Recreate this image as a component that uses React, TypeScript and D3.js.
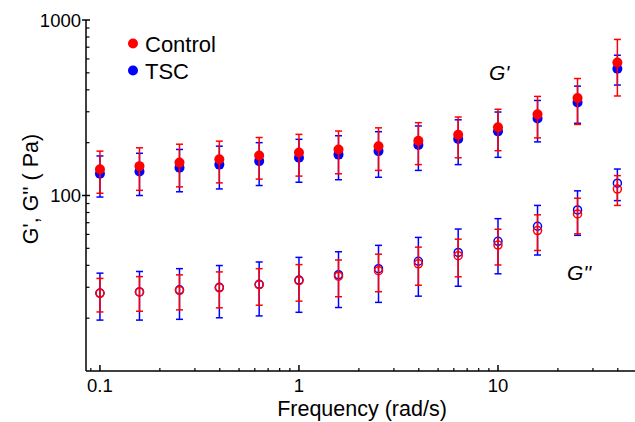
import React from "react";
import * as d3 from "d3";

const freq = [0.1, 0.158, 0.251, 0.398, 0.631, 1, 1.58, 2.51, 3.98, 6.31, 10, 15.8, 25.1, 39.8];

const controlGp = [141, 147, 154, 161, 169, 176, 183, 191, 205, 222, 245, 290, 359, 572];
const controlGpErr = [38, 40, 42, 43, 45, 47, 50, 52, 55, 58, 65, 77, 105, 203];
const tscGp = [133, 137, 144, 150, 157, 164, 171, 179, 194, 210, 232, 275, 339, 528];
const tscGpErr = [35, 37, 39, 41, 43, 45, 48, 52, 55, 60, 67, 73, 81, 102];

const controlGpp = [27.7, 28.2, 28.8, 29.8, 31.0, 32.7, 34.7, 37.3, 40.8, 45.4, 52.2, 63.1, 78.5, 108.8];
const controlGppErr = [6.0, 6.3, 6.5, 6.9, 7.3, 7.7, 8.2, 9.0, 10.0, 11.0, 12.0, 14.5, 18, 21];
const tscGpp = [27.8, 28.2, 29.0, 30.0, 31.2, 33.0, 35.4, 38.3, 42.2, 47.4, 54.8, 66.8, 82.8, 117.5];
const tscGppErr = [8.3, 8.7, 9.3, 9.9, 10.6, 11.4, 12.4, 13.7, 15.5, 17.0, 19.0, 21.0, 23.5, 24];

const xMajor = [0.1, 1, 10];
const xMajorLabels = ["0.1", "1", "10"];
const yMajor = [100, 1000];
const yMajorLabels = ["100", "1000"];

const seriesNames = ["Control", "TSC"];
const RED = "#ff0000";
const BLUE = "#0000ff";

const W = 635;
const H = 422;
const FONT = "'Liberation Sans', Arial, Helvetica, sans-serif";

export default function App() {
  const x = d3.scaleLog().domain([0.0851, 48.8]).range([86, 635]);
  const y = d3.scaleLog().domain([10, 1000]).range([371, 20]);

  const xMinor: number[] = [];
  [0.01, 0.1, 1, 10].forEach((dec) => {
    for (let k = 2; k <= 9; k++) {
      const v = dec * k;
      if (v > x.domain()[0] && v < x.domain()[1]) xMinor.push(v);
    }
  });
  const yMinor: number[] = [];
  [10, 100].forEach((dec) => {
    for (let k = 2; k <= 9; k++) yMinor.push(dec * k);
  });

  const errBars = (vals: number[], errs: number[], color: string, key: string) =>
    vals.map((v, i) => {
      const cx = x(freq[i]);
      const yt = y(v + errs[i]);
      const yb = y(v - errs[i]);
      return (
        <g key={key + i} stroke={color} strokeWidth={1.5}>
          <line x1={cx} x2={cx} y1={yt} y2={yb} />
          <line x1={cx - 3.5} x2={cx + 3.5} y1={yt} y2={yt} />
          <line x1={cx - 3.5} x2={cx + 3.5} y1={yb} y2={yb} />
        </g>
      );
    });

  const filled = (vals: number[], color: string, key: string) =>
    vals.map((v, i) => <circle key={key + i} cx={x(freq[i])} cy={y(v)} r={5} fill={color} />);

  const open = (vals: number[], color: string, key: string) =>
    vals.map((v, i) => (
      <circle key={key + i} cx={x(freq[i])} cy={y(v)} r={4} fill="none" stroke={color} strokeWidth={1.5} />
    ));

  const x0 = x.range()[0];
  const y0 = y.range()[0];

  return (
    <svg
      width={W}
      height={H}
      style={{ position: "absolute", left: 0, top: 0, background: "#fff" }}
      fontFamily={FONT}
    >
      {/* data */}
      {errBars(tscGp, tscGpErr, BLUE, "tbgp")}
      {errBars(tscGpp, tscGppErr, BLUE, "tbgpp")}
      {filled(tscGp, BLUE, "tpgp")}
      {open(tscGpp, BLUE, "tpgpp")}
      {errBars(controlGp, controlGpErr, RED, "cbgp")}
      {errBars(controlGpp, controlGppErr, RED, "cbgpp")}
      {filled(controlGp, RED, "cpgp")}
      {open(controlGpp, RED, "cpgpp")}

      {/* axes */}
      <line x1={x0} x2={x0} y1={y.range()[1]} y2={y0} stroke="#000" strokeWidth={1.5} />
      <line x1={x0} x2={x.range()[1]} y1={y0} y2={y0} stroke="#000" strokeWidth={1.5} />

      {xMajor.map((v, i) => (
        <g key={"xm" + i}>
          <line x1={x(v)} x2={x(v)} y1={y0} y2={y0 - 6} stroke="#000" strokeWidth={1.5} />
          <text x={x(v)} y={391.5} fontSize={18.5} textAnchor="middle" fill="#000">
            {xMajorLabels[i]}
          </text>
        </g>
      ))}
      {xMinor.map((v, i) => (
        <line key={"xn" + i} x1={x(v)} x2={x(v)} y1={y0} y2={y0 - 3} stroke="#000" strokeWidth={1.2} />
      ))}

      {yMajor.map((v, i) => (
        <g key={"ym" + i}>
          <line x1={x0 - 4} x2={x0 + 4} y1={y(v)} y2={y(v)} stroke="#000" strokeWidth={1.5} />
          <text x={81} y={y(v)} dy="0.36em" fontSize={18.5} textAnchor="end" fill="#000">
            {yMajorLabels[i]}
          </text>
        </g>
      ))}
      {yMinor.map((v, i) => (
        <line key={"yn" + i} x1={x0} x2={x0 + 3.5} y1={y(v)} y2={y(v)} stroke="#000" strokeWidth={1.2} />
      ))}

      {/* axis titles */}
      <text x={362} y={416} fontSize={21.5} textAnchor="middle" fill="#000">
        Frequency (rad/s)
      </text>
      <text transform="translate(38,189) rotate(-90)" fontSize={21.5} textAnchor="middle" fill="#000">
        G', G'' ( Pa)
      </text>

      {/* annotations */}
      <text x={489} y={80} fontSize={21} fontStyle="italic" fill="#000">
        G'
      </text>
      <text x={567} y={280} fontSize={21} fontStyle="italic" fill="#000">
        G''
      </text>

      {/* legend */}
      <circle cx={133} cy={43.5} r={5} fill={RED} />
      <text x={145} y={51.5} fontSize={22} fill="#000">
        {seriesNames[0]}
      </text>
      <circle cx={133} cy={70.5} r={5} fill={BLUE} />
      <text x={145} y={78.5} fontSize={22} fill="#000">
        {seriesNames[1]}
      </text>
    </svg>
  );
}
